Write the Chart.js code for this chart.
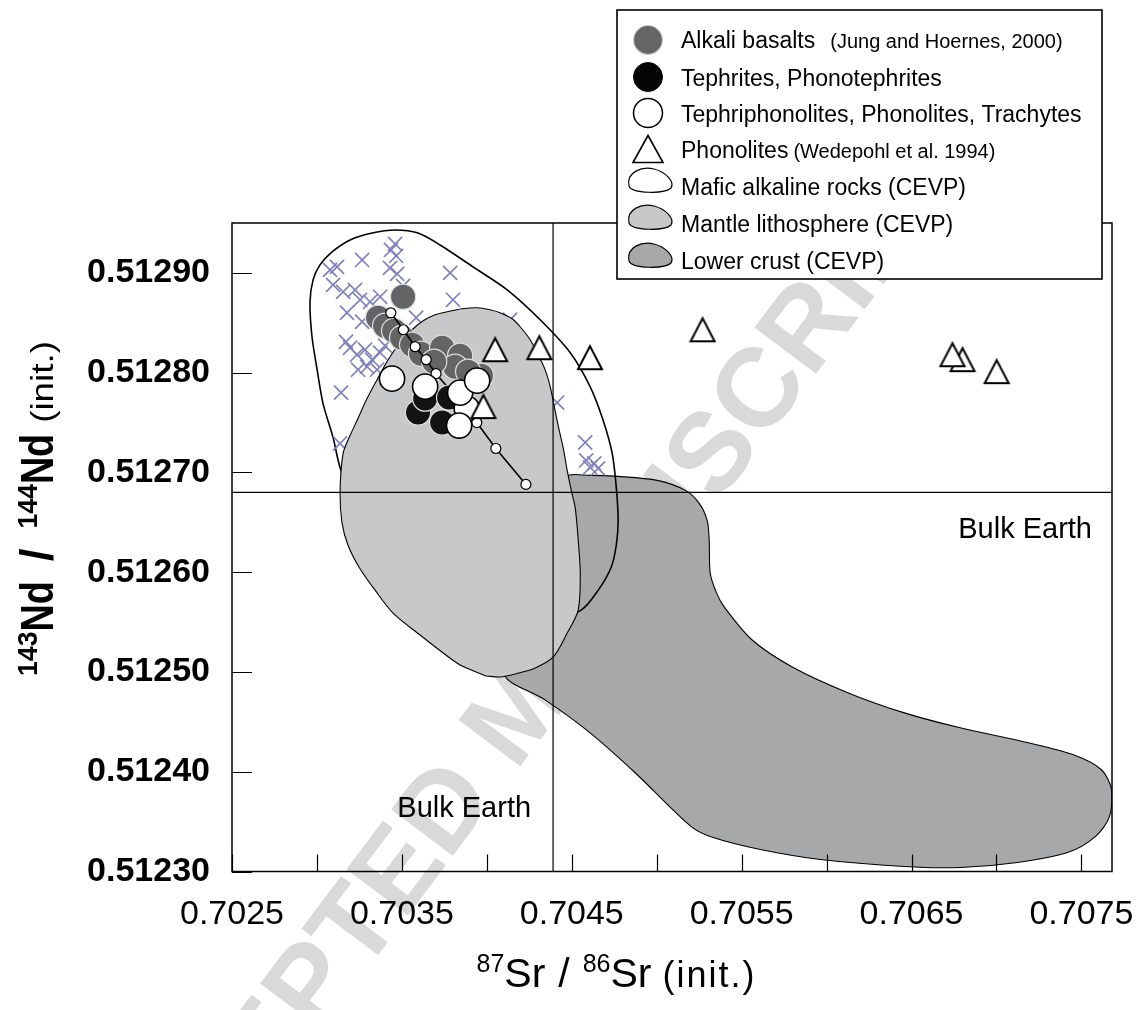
<!DOCTYPE html>
<html>
<head>
<meta charset="utf-8">
<title>Sr-Nd isotope diagram</title>
<script src="https://cdn.jsdelivr.net/npm/chart.js@4.4.1/dist/chart.umd.min.js"></script>
<style>
  html, body { margin: 0; padding: 0; background: #ffffff; }
  #wrap { width: 1140px; height: 1010px; position: relative; }
</style>
</head>
<body>
<div id="wrap"><canvas id="chart" width="1140" height="1010"></canvas></div>
<script>
// ---- axis ranges and ticks ----
const X_MIN = 0.7025, X_MAX = 0.70768;
const Y_MIN = 0.5123, Y_MAX = 0.51295;
const X_TICK_VALUES = [0.7025, 0.7030, 0.7035, 0.7040, 0.7045, 0.7050, 0.7055, 0.7060, 0.7065, 0.7070, 0.7075];
const X_TICK_LABELS = ['0.7025', '', '0.7035', '', '0.7045', '', '0.7055', '', '0.7065', '', '0.7075'];
const Y_TICK_VALUES = [0.5123, 0.5124, 0.5125, 0.5126, 0.5127, 0.5128, 0.5129];
const Y_TICK_LABELS = ['0.51230', '0.51240', '0.51250', '0.51260', '0.51270', '0.51280', '0.51290'];

// ---- Bulk Earth reference values ----
const BULK_EARTH_SR = 0.70439;
const BULK_EARTH_ND = 0.51268;

// ---- samples ----
const ALKALI_SR = [0.703507, 0.703360, 0.703401, 0.703454, 0.703501, 0.703560, 0.703613, 0.703737, 0.703843, 0.703813, 0.703690, 0.703966, 0.703890];
const ALKALI_ND = [0.512876, 0.512855, 0.512847, 0.512842, 0.512835, 0.512828, 0.512819, 0.512825, 0.512817, 0.512806, 0.512811, 0.512797, 0.512801];

const TEPHRITE_SR = [0.703595, 0.703637, 0.703737, 0.703778];
const TEPHRITE_ND = [0.512760, 0.512774, 0.512750, 0.512775];

const TEPHRIPHONOLITE_SR = [0.703882, 0.703442, 0.703637, 0.703843, 0.703943, 0.703837];
const TEPHRIPHONOLITE_ND = [0.512764, 0.512794, 0.512786, 0.512780, 0.512792, 0.512747];

const PHONOLITE_SR = [0.704049, 0.704309, 0.704607, 0.703980, 0.705270, 0.706800, 0.706741, 0.707001];
const PHONOLITE_ND = [0.512823, 0.512825, 0.512815, 0.512766, 0.512843, 0.512813, 0.512818, 0.512801];

const CEVP_SR = [0.703077, 0.703118, 0.703266, 0.703436, 0.703460, 0.703466, 0.703430, 0.703472, 0.703784, 0.703801,
                 0.703095, 0.703154, 0.703224, 0.703254, 0.703313, 0.703372, 0.703177, 0.703266, 0.703195, 0.703236,
                 0.703283, 0.703324, 0.703372, 0.703401, 0.703295, 0.703354, 0.703242, 0.703142, 0.703136, 0.704137,
                 0.704414, 0.704579, 0.704585, 0.704632, 0.704655, 0.704608, 0.703171, 0.703507, 0.703584];
const CEVP_ND = [0.512903, 0.512906, 0.512913, 0.512923, 0.512929, 0.512917, 0.512905, 0.512899, 0.512900, 0.512873,
                 0.512888, 0.512881, 0.512883, 0.512873, 0.512871, 0.512876, 0.512860, 0.512851, 0.512825, 0.512818,
                 0.512823, 0.512813, 0.512820, 0.512827, 0.512806, 0.512803, 0.512803, 0.512780, 0.512729, 0.512853,
                 0.512770, 0.512730, 0.512712, 0.512709, 0.512704, 0.512705, 0.512831, 0.512887, 0.512855];

// evolution trend (small open circles joined by a line)
const TREND_SR = [0.703435, 0.703509, 0.703578, 0.703643, 0.703701, 0.703862, 0.703941, 0.704053, 0.704230];
const TREND_ND = [0.512860, 0.512843, 0.512826, 0.512813, 0.512799, 0.512767, 0.512750, 0.512724, 0.512688];

// ---- CEVP fields (outlines) ----
const MAFIC_SR = [0.703902, 0.703489, 0.703224, 0.703136, 0.703095, 0.703036, 0.703001, 0.702971, 0.702959, 0.702977,
                  0.703018, 0.703089, 0.703195, 0.703325, 0.703460, 0.703595, 0.703725, 0.703919, 0.704120, 0.704314,
                  0.704491, 0.704608, 0.704685, 0.704738, 0.704762, 0.704773, 0.704762, 0.704732, 0.704656, 0.704555,
                  0.704314];
const MAFIC_ND = [0.512562, 0.512612, 0.512667, 0.512705, 0.512735, 0.512769, 0.512803, 0.512836, 0.512870, 0.512893,
                  0.512908, 0.512921, 0.512933, 0.512940, 0.512943, 0.512940, 0.512928, 0.512906, 0.512883, 0.512853,
                  0.512820, 0.512786, 0.512752, 0.512719, 0.512685, 0.512652, 0.512627, 0.512605, 0.512582, 0.512562,
                  0.512547];

const MANTLE_SR = [0.703996, 0.703843, 0.703743, 0.703607, 0.703448, 0.703342, 0.703248, 0.703183, 0.703148, 0.703136,
                   0.703154, 0.703195, 0.703236, 0.703289, 0.703354, 0.703419, 0.703489, 0.703560, 0.703625, 0.703696,
                   0.703766, 0.703855, 0.703943, 0.704019, 0.704078, 0.704149, 0.704196, 0.704255, 0.704296, 0.704343,
                   0.704373, 0.704396, 0.704420, 0.704449, 0.704473, 0.704497, 0.704520, 0.704538, 0.704550, 0.704538,
                   0.704473, 0.704391, 0.704285, 0.704167, 0.704078];
const MANTLE_ND = [0.512496, 0.512507, 0.512519, 0.512537, 0.512559, 0.512582, 0.512605, 0.512627, 0.512649, 0.512679,
                   0.512719, 0.512737, 0.512752, 0.512772, 0.512793, 0.512813, 0.512830, 0.512843, 0.512852, 0.512858,
                   0.512861, 0.512864, 0.512865, 0.512863, 0.512860, 0.512854, 0.512846, 0.512833, 0.512820, 0.512803,
                   0.512786, 0.512767, 0.512747, 0.512725, 0.512702, 0.512682, 0.512665, 0.512632, 0.512599, 0.512562,
                   0.512539, 0.512515, 0.512504, 0.512498, 0.512495];

const CRUST_SR = [0.704343, 0.704479, 0.704467, 0.704467, 0.704608, 0.704773, 0.705003, 0.705168, 0.705250, 0.705297,
                  0.705309, 0.705315, 0.705350, 0.705398, 0.705562, 0.705798, 0.706128, 0.706458, 0.706787, 0.707188,
                  0.707453, 0.707618, 0.707677, 0.707665, 0.707582, 0.707418, 0.707123, 0.706787, 0.706458, 0.705963,
                  0.705610, 0.705333, 0.705203, 0.704873, 0.704608, 0.704343, 0.704108];
const CRUST_ND = [0.512532, 0.512612, 0.512672, 0.512696, 0.512697, 0.512696, 0.512692, 0.512682, 0.512669, 0.512652,
                  0.512632, 0.512599, 0.512580, 0.512565, 0.512532, 0.512505, 0.512479, 0.512459, 0.512444, 0.512429,
                  0.512417, 0.512402, 0.512382, 0.512355, 0.512335, 0.512319, 0.512309, 0.512304, 0.512305, 0.512312,
                  0.512322, 0.512334, 0.512345, 0.512399, 0.512439, 0.512472, 0.512497];

// ---- helpers ----
const FONT = "'Liberation Sans', Arial, Helvetica, sans-serif";
Chart.defaults.font.family = FONT;
Chart.defaults.color = '#000';

const toPoints = (xs, ys) => xs.map((x, i) => ({ x: x, y: ys[i] }));
const closedRing = (xs, ys) => { const p = toPoints(xs, ys); p.push({ x: p[0].x, y: p[0].y }); return p; };

function triangleMarker(w, h, lw) {
  const pad = 3;
  const c = document.createElement('canvas');
  c.width = w + pad * 2; c.height = h + pad * 2;
  const g = c.getContext('2d');
  g.fillStyle = '#ffffff'; g.strokeStyle = '#000000'; g.lineWidth = lw; g.lineJoin = 'miter';
  g.beginPath();
  g.moveTo(pad + w / 2, pad + lw / 2);
  g.lineTo(pad + w - lw / 2, pad + h - lw / 2);
  g.lineTo(pad + lw / 2, pad + h - lw / 2);
  g.closePath(); g.fill(); g.stroke();
  return c;
}
const TRIANGLE = triangleMarker(26, 25, 2);

// white page + faint diagonal imprint underneath everything
const pagePlugin = {
  id: 'page',
  beforeDraw(chart) {
    const ctx = chart.ctx;
    ctx.save();
    ctx.fillStyle = '#ffffff';
    ctx.fillRect(0, 0, chart.width, chart.height);
    ctx.translate(521, 714);
    ctx.rotate(-53 * Math.PI / 180);
    ctx.font = 'bold 112px ' + FONT;
    ctx.fillStyle = '#d9d9d9';
    ctx.textAlign = 'center';
    ctx.textBaseline = 'middle';
    ctx.fillText('ACCEPTED MANUSCRIPT', 0, 0);
    ctx.restore();
  }
};

// plot frame, inward tick marks, Bulk Earth captions
const framePlugin = {
  id: 'frame',
  afterDatasetsDraw(chart) {
    const { ctx, chartArea: a } = chart;
    const xs = chart.scales.x, ys = chart.scales.y;
    ctx.save();
    ctx.strokeStyle = '#000'; ctx.lineWidth = 1.5;
    ctx.strokeRect(a.left, a.top, a.right - a.left, a.bottom - a.top);
    ctx.lineWidth = 1.2;
    ctx.beginPath();
    xs.ticks.forEach(t => {
      const px = Math.round(xs.getPixelForValue(t.value)) + 0.5;
      ctx.moveTo(px, a.bottom); ctx.lineTo(px, a.bottom - 17);
    });
    ys.ticks.forEach(t => {
      const py = Math.round(ys.getPixelForValue(t.value)) + 0.5;
      ctx.moveTo(a.left, py); ctx.lineTo(a.left + 20, py);
    });
    ctx.stroke();

    ctx.fillStyle = '#000';
    ctx.font = '29px ' + FONT;
    ctx.textAlign = 'right';
    ctx.textBaseline = 'alphabetic';
    ctx.fillText('Bulk Earth', a.right - 20, ys.getPixelForValue(BULK_EARTH_ND) + 46);
    ctx.fillText('Bulk Earth', xs.getPixelForValue(BULK_EARTH_SR) - 22, a.bottom - 55);
    ctx.restore();
  }
};

// text runs with mixed sizes (superscripts), optional horizontal squeeze and letter spacing
function drawRich(ctx, pieces, cx, baseline) {
  let total = 0;
  pieces.forEach(p => {
    ctx.font = p.font;
    ctx.letterSpacing = (p.ls || 0) + 'px';
    p.w = ctx.measureText(p.t).width * (p.sx || 1) + (p.gap || 0);
    total += p.w;
  });
  let x = cx - total / 2;
  pieces.forEach(p => {
    ctx.save();
    ctx.font = p.font;
    ctx.letterSpacing = (p.ls || 0) + 'px';
    ctx.translate(x + (p.gap || 0) / 2, baseline + (p.dy || 0));
    ctx.scale(p.sx || 1, 1);
    ctx.fillText(p.t, 0, 0);
    ctx.restore();
    x += p.w;
  });
  ctx.letterSpacing = '0px';
}

// axis titles with superscript mass numbers
const titlePlugin = {
  id: 'titles',
  afterDraw(chart) {
    const ctx = chart.ctx;
    ctx.save();
    ctx.fillStyle = '#000';
    ctx.textAlign = 'left';
    ctx.textBaseline = 'alphabetic';
    drawRich(ctx, [
      { t: '87', font: '25px ' + FONT, dy: -15 },
      { t: 'Sr', font: '41px ' + FONT },
      { t: '/', font: '41px ' + FONT, gap: 26 },
      { t: '86', font: '25px ' + FONT, dy: -15 },
      { t: 'Sr', font: '41px ' + FONT },
      { t: '(init.)', font: '36px ' + FONT, ls: 2, gap: 22 }
    ], 622, 987);

    ctx.translate(53, 503);
    ctx.rotate(-Math.PI / 2);
    drawRich(ctx, [
      { t: '143', font: 'bold 28px ' + FONT, dy: -16, sx: 0.95 },
      { t: 'Nd', font: 'bold 46px ' + FONT, sx: 0.82 },
      { t: '/', font: 'bold 46px ' + FONT, gap: 40 },
      { t: '144', font: 'bold 28px ' + FONT, dy: -16, sx: 0.95 },
      { t: 'Nd', font: 'bold 46px ' + FONT, sx: 0.82 },
      { t: '(init.)', font: '32px ' + FONT, sx: 1.15, gap: 22 }
    ], 0, 0);
    ctx.restore();
  }
};

// legend box
const LEGEND_LABELS = ['Alkali basalts', 'Tephrites, Phonotephrites', 'Tephriphonolites, Phonolites, Trachytes',
                       'Phonolites', 'Mafic alkaline rocks (CEVP)', 'Mantle lithosphere (CEVP)', 'Lower crust (CEVP)'];
const LEGEND_NOTES = ['(Jung and Hoernes, 2000)', '', '', '(Wedepohl et al. 1994)', '', '', ''];

function domePath(ctx, cx, cy) {
  ctx.beginPath();
  ctx.moveTo(cx - 21, cy + 5);
  ctx.bezierCurveTo(cx - 24, cy - 9, cx - 8, cy - 15, cx + 4, cy - 12);
  ctx.bezierCurveTo(cx + 16, cy - 9, cx + 25, cy + 1, cx + 21, cy + 7);
  ctx.bezierCurveTo(cx + 15, cy + 13, cx - 18, cy + 13, cx - 21, cy + 5);
  ctx.closePath();
}

const legendPlugin = {
  id: 'legendBox',
  afterDraw(chart) {
    const ctx = chart.ctx;
    const box = { x: 617, y: 10, w: 485, h: 269 };
    const iconX = 648, textX = 681;
    const iconY = [40, 77, 113, 149, 181, 218, 256];
    const baseY = [48, 85.5, 121.5, 157.5, 195, 231.5, 268.5];
    ctx.save();
    ctx.fillStyle = '#fff';
    ctx.fillRect(box.x, box.y, box.w, box.h);
    ctx.strokeStyle = '#000'; ctx.lineWidth = 1.6;
    ctx.strokeRect(box.x, box.y, box.w, box.h);

    const circle = (y, fill, stroke, lw) => {
      ctx.beginPath(); ctx.arc(iconX, y, 14.5, 0, Math.PI * 2);
      ctx.fillStyle = fill; ctx.fill();
      ctx.strokeStyle = stroke; ctx.lineWidth = lw; ctx.stroke();
    };
    circle(iconY[0], '#646567', '#cfcfcf', 1.2);
    circle(iconY[1], '#050505', '#050505', 1);
    circle(iconY[2], '#ffffff', '#000000', 1.5);
    ctx.beginPath();
    ctx.moveTo(iconX, iconY[3] - 13.5); ctx.lineTo(iconX + 15, iconY[3] + 13.5); ctx.lineTo(iconX - 15, iconY[3] + 13.5);
    ctx.closePath(); ctx.fillStyle = '#fff'; ctx.fill(); ctx.strokeStyle = '#000'; ctx.lineWidth = 1.6; ctx.stroke();
    const domeFills = ['#ffffff', '#c7c8ca', '#a7a8aa'];
    for (let k = 0; k < 3; k++) {
      domePath(ctx, 650, iconY[4 + k]);
      ctx.fillStyle = domeFills[k]; ctx.fill();
      ctx.strokeStyle = '#000'; ctx.lineWidth = 1.2; ctx.stroke();
    }

    ctx.fillStyle = '#000';
    ctx.textAlign = 'left';
    ctx.textBaseline = 'alphabetic';
    LEGEND_LABELS.forEach((lab, i) => {
      ctx.font = '23px ' + FONT;
      ctx.fillText(lab, textX, baseY[i]);
      if (LEGEND_NOTES[i]) {
        const w = ctx.measureText(lab).width;
        ctx.font = '20px ' + FONT;
        ctx.fillText(LEGEND_NOTES[i], textX + w + (i === 0 ? 15 : 5), baseY[i]);
      }
    });
    ctx.restore();
  }
};

const datasets = [
  { label: 'Lower crust (CEVP)', data: closedRing(CRUST_SR, CRUST_ND), showLine: true, fill: 'shape',
    backgroundColor: '#a7a8aa', borderColor: '#000', borderWidth: 1.1, pointRadius: 0, tension: 0.3, order: 9 },
  { label: 'Mafic alkaline rocks (CEVP)', data: closedRing(MAFIC_SR, MAFIC_ND), showLine: true, fill: false,
    backgroundColor: 'rgba(255,255,255,0)', borderColor: '#000', borderWidth: 1.6, pointRadius: 0, tension: 0.3, order: 8 },
  { label: 'CEVP mafic alkaline rocks', data: toPoints(CEVP_SR, CEVP_ND), pointStyle: 'crossRot', pointRadius: 10,
    borderColor: '#8082bb', backgroundColor: '#8082bb', pointBorderWidth: 1.7, order: 7 },
  { label: 'Mantle lithosphere (CEVP)', data: closedRing(MANTLE_SR, MANTLE_ND), showLine: true, fill: 'shape',
    backgroundColor: '#c7c8ca', borderColor: '#000', borderWidth: 1.1, pointRadius: 0, tension: 0.3, order: 6 },
  { label: 'Bulk Earth Sr', data: [{ x: BULK_EARTH_SR, y: Y_MIN }, { x: BULK_EARTH_SR, y: Y_MAX }], showLine: true,
    borderColor: '#000', borderWidth: 1.2, pointRadius: 0, order: 5 },
  { label: 'Bulk Earth Nd', data: [{ x: X_MIN, y: BULK_EARTH_ND }, { x: X_MAX, y: BULK_EARTH_ND }], showLine: true,
    borderColor: '#000', borderWidth: 1.2, pointRadius: 0, order: 5 },
  { label: 'Alkali basalts', data: toPoints(ALKALI_SR, ALKALI_ND), pointRadius: 12.6,
    pointBackgroundColor: '#636466', pointBorderColor: '#dedede', pointBorderWidth: 1.2, order: 4 },
  { label: 'Trend', data: toPoints(TREND_SR, TREND_ND), showLine: true, borderColor: '#000', borderWidth: 1.6,
    pointRadius: 5, pointBackgroundColor: '#fff', pointBorderColor: '#000', pointBorderWidth: 1.2, order: 3 },
  { label: 'Tephrites, Phonotephrites', data: toPoints(TEPHRITE_SR, TEPHRITE_ND), pointRadius: 12.6,
    pointBackgroundColor: '#131313', pointBorderColor: '#e0e0e0', pointBorderWidth: 1.2, order: 2 },
  { label: 'Tephriphonolites, Phonolites, Trachytes', data: toPoints(TEPHRIPHONOLITE_SR, TEPHRIPHONOLITE_ND), pointRadius: 12.6,
    pointBackgroundColor: '#ffffff', pointBorderColor: '#000', pointBorderWidth: 1.6, order: 1 },
  { label: 'Phonolites', data: toPoints(PHONOLITE_SR, PHONOLITE_ND), pointStyle: TRIANGLE, pointRadius: 13, order: 0 }
];

new Chart(document.getElementById('chart'), {
  type: 'scatter',
  data: { datasets: datasets },
  options: {
    responsive: false,
    animation: false,
    devicePixelRatio: 1,
    events: [],
    layout: { padding: { left: 0, top: 223, right: 28, bottom: 38.5 } },
    plugins: { legend: { display: false }, tooltip: { enabled: false } },
    scales: {
      x: {
        type: 'linear', position: 'bottom', min: X_MIN, max: X_MAX,
        grid: { display: false }, border: { display: false },
        afterFit: s => { s.height = 100; s.paddingLeft = 0; s.paddingRight = 0; },
        afterBuildTicks: s => { s.ticks = X_TICK_VALUES.map(v => ({ value: v })); },
        ticks: { autoSkip: false, maxRotation: 0, padding: 15, color: '#000',
                 font: { size: 34 }, callback: (v, i) => X_TICK_LABELS[i] }
      },
      y: {
        type: 'linear', position: 'left', min: Y_MIN, max: Y_MAX,
        grid: { display: false }, border: { display: false },
        afterFit: s => { s.width = 232; s.paddingTop = 0; s.paddingBottom = 0; },
        afterBuildTicks: s => { s.ticks = Y_TICK_VALUES.map(v => ({ value: v })); },
        ticks: { autoSkip: false, padding: 14, color: '#000',
                 font: { size: 34, weight: 'bold' }, callback: (v, i) => Y_TICK_LABELS[i] }
      }
    }
  },
  plugins: [pagePlugin, framePlugin, titlePlugin, legendPlugin]
});
</script>
</body>
</html>
